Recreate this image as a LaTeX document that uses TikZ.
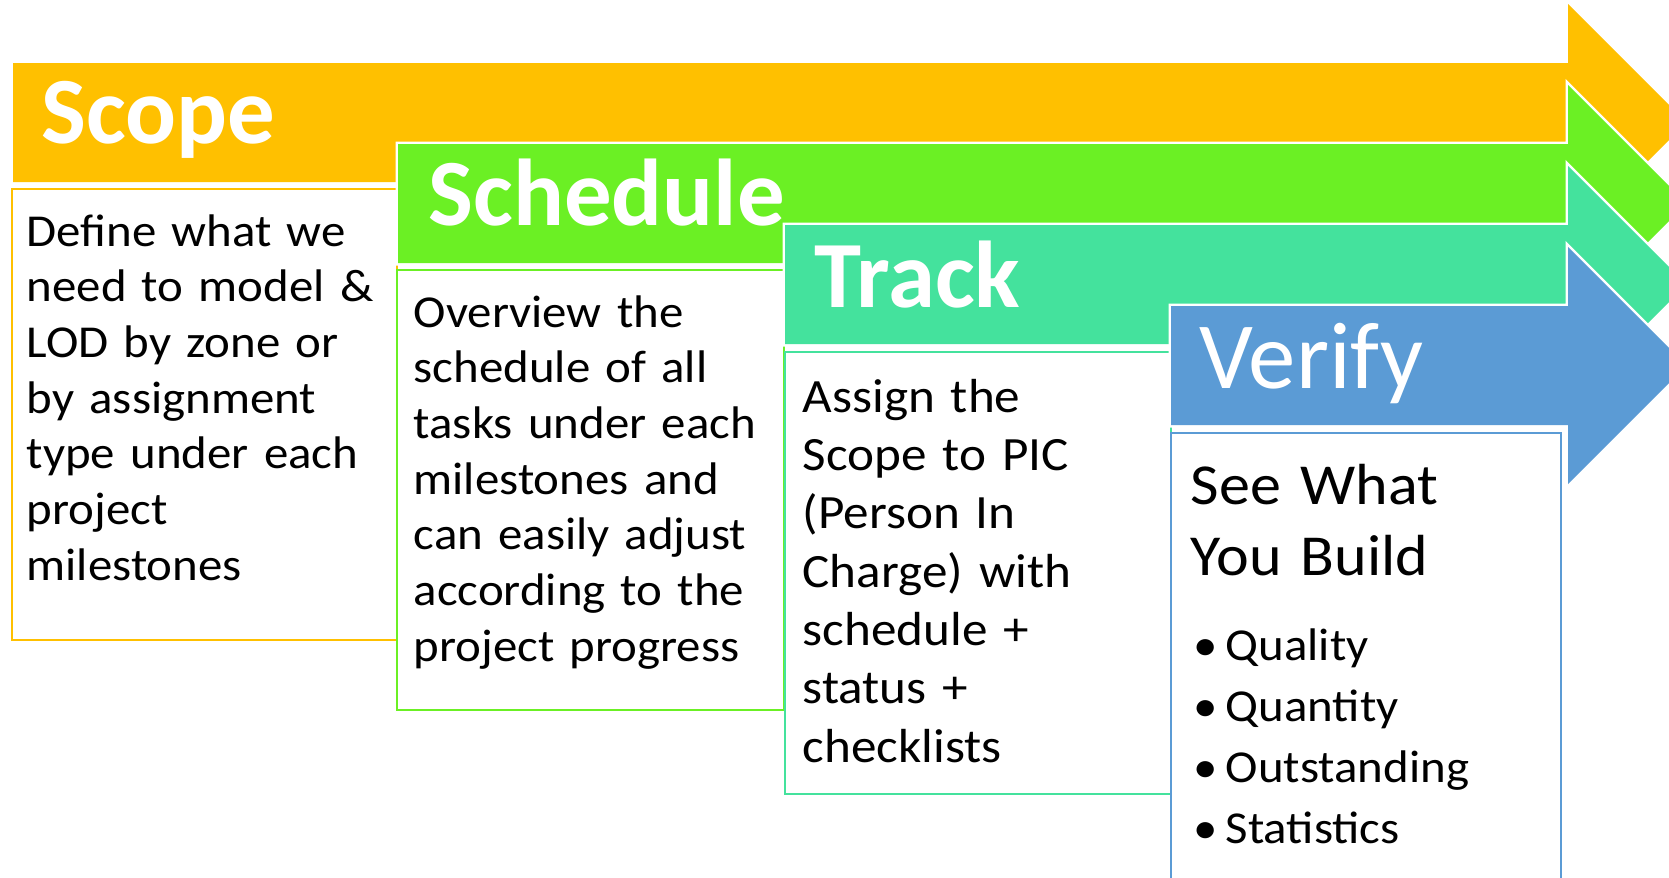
\documentclass[tikz,border=0pt]{standalone}
\usepackage{fontspec}
\setmainfont{Carlito}
\newfontfamily\stagefont{Carlito}[FakeStretch=1.07]
\usepackage{tikz}
\usetikzlibrary{positioning}
\definecolor{scopeorange}{HTML}{FFC000}
\definecolor{schedgreen}{HTML}{6BF024}
\definecolor{trackteal}{HTML}{44E29D}
\definecolor{verifyblue}{HTML}{5B9BD5}
\tikzstyle{stagetitle}=[anchor=base west, inner sep=0pt, text=white, font=\fontsize{27}{32}\selectfont\bfseries]
\tikzstyle{stagetext}=[anchor=base west, inner sep=0pt, align=left, text width=3.8cm, font=\stagefont\fontsize{13}{15.85}\selectfont]
\tikzstyle{boxline}=[line width=0.22mm]
\newcommand{\stagearrow}[3]{%
	\filldraw[white, line width=0.5mm](#1,#2)--(15.68,#2)--(15.68,#2+0.59)--(16.865,#2-0.595)--(15.68,#2-1.78)--(15.68,#2-1.19)--(#1,#2-1.19)--cycle;
	\fill[#3](#1,#2)--(15.68,#2)--(15.68,#2+0.59)--(16.865,#2-0.595)--(15.68,#2-1.78)--(15.68,#2-1.19)--(#1,#2-1.19)--cycle;}
\begin{document}
\begin{tikzpicture}
				\useasboundingbox(0,0)rectangle(16.69,-8.77);
				\stagearrow{0.13}{-0.63}{scopeorange}
				\draw[boxline, scopeorange](0.12,-1.89)rectangle(3.97,-6.40);
				\stagearrow{3.98}{-1.44}{schedgreen}
				\draw[boxline, schedgreen](3.97,-2.70)rectangle(7.84,-7.10);
				\stagearrow{7.85}{-2.25}{trackteal}
				\draw[boxline, trackteal](7.85,-3.52)rectangle(11.71,-7.94);
				\stagearrow{11.71}{-3.06}{verifyblue}
				\draw[boxline, verifyblue](11.71,-4.33)rectangle(15.61,-9.20);
				\node(scopeTitle)[stagetitle]at(0.41,-1.43){Scope};
				\node(scheduleTitle)[stagetitle]at(4.28,-2.25){Schedule};
				\node(trackTitle)[stagetitle]at(8.14,-3.07){Track};
				\node(verifyTitle)[stagetitle, font=\fontsize{27}{32}\selectfont]at(11.99,-3.88){Verify};
				\node(scopeText)[stagetext]at(0.26,-2.46){Define what we\\need to model \&\\LOD by zone or\\by assignment\\type under each\\project\\milestones};
				\node(scheduleText)[stagetext]at(4.13,-3.27){Overview the\\schedule of all\\tasks under each\\milestones and\\can easily adjust\\according to the\\project progress};
				\node(trackText)[stagetext, font=\stagefont\fontsize{13.6}{16.6}\selectfont]at(8.02,-4.12){Assign the\\Scope to PIC\\(Person In\\Charge) with\\schedule +\\status +\\checklists};
				\node(verifyText)[stagetext, font=\stagefont\fontsize{16.5}{20.2}\selectfont]at(11.90,-5.04){See What\\You Build};
				\node(verifyList)[stagetext, font=\stagefont\fontsize{13}{17.44}\selectfont]at(11.93,-6.60){\makebox[0.32cm][l]{\textbullet}Quality\\\makebox[0.32cm][l]{\textbullet}Quantity\\\makebox[0.32cm][l]{\textbullet}Outstanding\\\makebox[0.32cm][l]{\textbullet}Statistics};
			\end{tikzpicture}
\end{document}
